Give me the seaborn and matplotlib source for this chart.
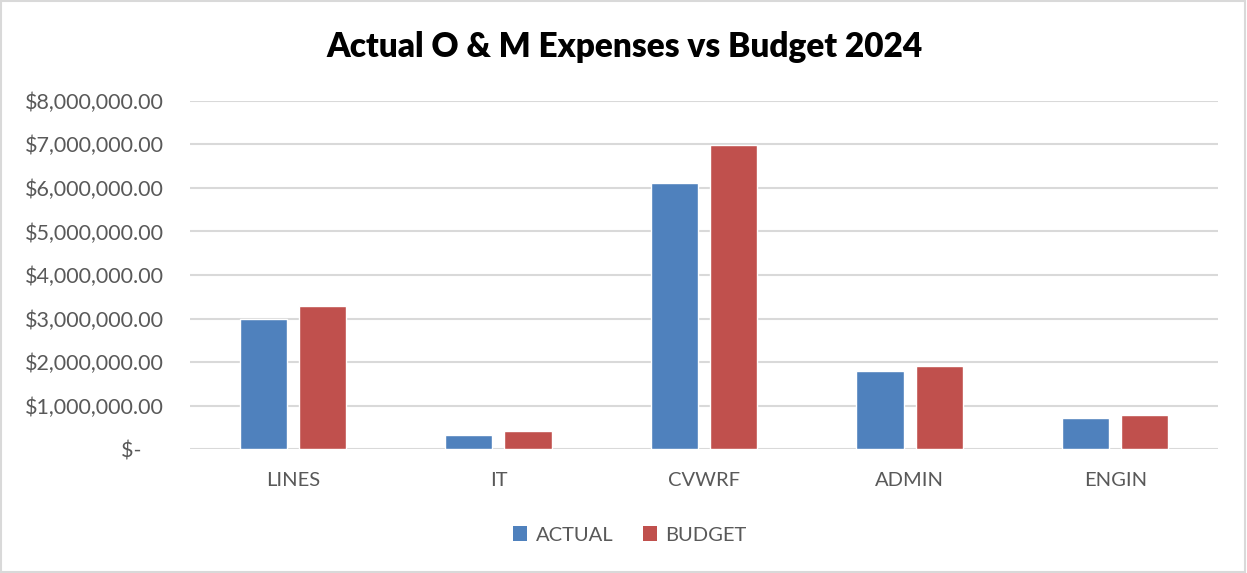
import matplotlib
matplotlib.use("Agg")
import matplotlib.pyplot as plt
import seaborn as sns
import pandas as pd
from matplotlib.ticker import FuncFormatter, MultipleLocator
from matplotlib.patches import Patch, Rectangle

categories = ["LINES", "IT", "CVWRF", "ADMIN", "ENGIN"]
actual = [2980000, 330000, 6100000, 1790000, 710000]
budget = [3300000, 420000, 6990000, 1910000, 780000]
series_names = ["ACTUAL", "BUDGET"]
colors = ["#4F81BD", "#C0504D"]

df = pd.DataFrame({
    "category": categories * 2,
    "series": [series_names[0]] * len(categories) + [series_names[1]] * len(categories),
    "value": actual + budget,
})

sns.set_style("white")
plt.rcParams["font.family"] = ["Lato", "DejaVu Sans"]

fig = plt.figure(figsize=(12.47, 5.73), dpi=100)
ax = fig.add_axes([190/1247, 1-449.3/573, (1218-190)/1247, (449.3-100.7)/573])

sns.barplot(data=df, x="category", y="value", hue="series", order=categories,
            hue_order=series_names, palette=colors, width=0.574, gap=0.2,
            saturation=1, ax=ax, legend=False, errorbar=None)

ax.set_ylim(0, 8000000)
ax.set_xlim(-0.5, len(categories) - 0.5)
ax.yaxis.set_major_locator(MultipleLocator(1000000))

def fmt(v, pos):
    if abs(v) < 1:
        return "$-    "
    return f"${v:,.2f}"

ax.yaxis.set_major_formatter(FuncFormatter(fmt))
ax.grid(axis="y", color="#d9d9d9", linewidth=1.5)
ax.set_axisbelow(True)
for s in ax.spines.values():
    s.set_visible(False)
ax.tick_params(axis="y", length=0, pad=19, labelsize=15.5, labelcolor="#595959")
ax.tick_params(axis="x", length=0, pad=16, labelsize=14.5, labelcolor="#595959")
ax.set_xlabel("")
ax.set_ylabel("")

fig.text(625/1247, 1-47/573, "Actual O & M Expenses vs Budget 2024", ha="center", va="center",
         fontsize=24, fontweight="heavy", color="black")

handles = [Patch(facecolor=c, edgecolor="none") for c in colors]
fig.legend(handles, series_names, loc="center", bbox_to_anchor=(630/1247, 1-535/573),
           ncol=2, frameon=False, fontsize=14.5, labelcolor="#595959",
           handlelength=0.7, handleheight=0.7, handletextpad=0.4, columnspacing=1.5)

fig.patches.append(Rectangle((0.001, 0.001), 0.997, 0.997, transform=fig.transFigure,
                             fill=False, edgecolor="#d9d9d9", linewidth=1.5))

fig.savefig("out.png", dpi=100)
